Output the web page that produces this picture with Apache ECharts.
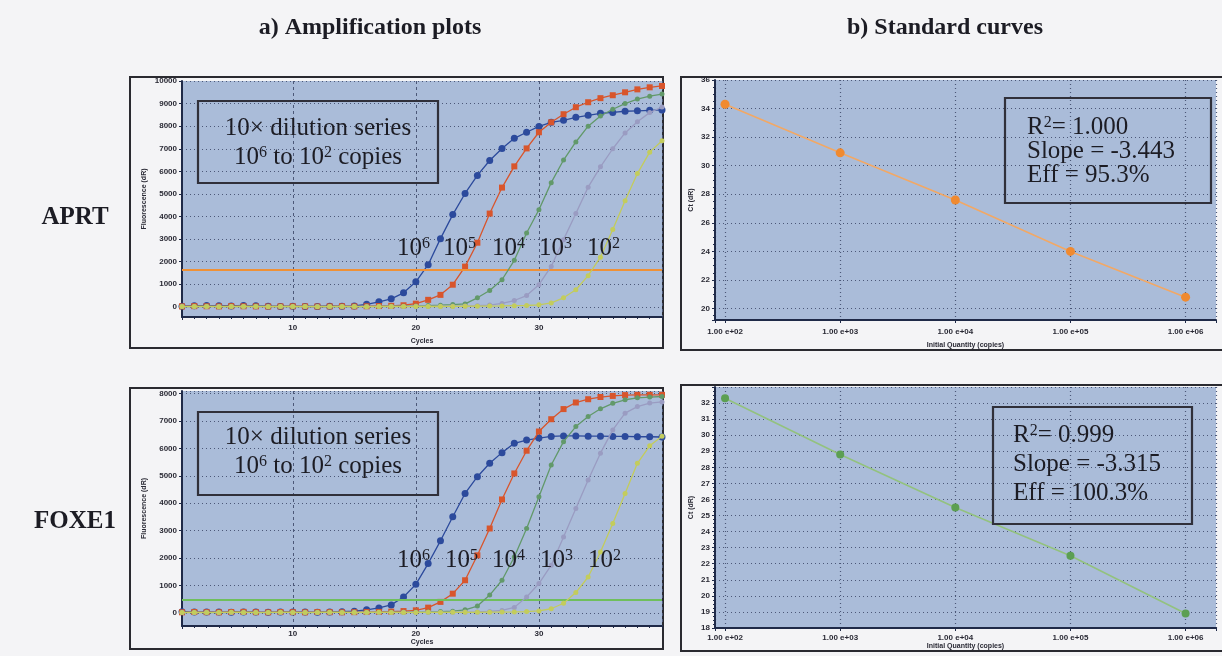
<!DOCTYPE html>
<html>
<head>
<meta charset="utf-8">
<script src="https://cdn.jsdelivr.net/npm/echarts@6.0.0/dist/echarts.min.js"></script>
<style>
html,body{margin:0;padding:0;background:#f4f4f6;}
#c{width:1222px;height:656px;}
</style>
</head>
<body>
<div id="c"></div>
<script>
// ---------------- DATA ----------------
const cycles = [1,2,3,4,5,6,7,8,9,10,11,12,13,14,15,16,17,18,19,20,21,22,23,24,25,26,27,28,29,30,31,32,33,34,35,36,37,38,39,40];

// APRT amplification (fluorescence dR), one value per cycle
const aprt1e6 = [30,50,55,50,40,60,45,30,20,25,20,15,25,30,40,110,220,355,620,1110,1865,3020,4085,5020,5820,6480,7015,7460,7730,7990,8170,8260,8390,8480,8570,8610,8660,8680,8700,8720];
const aprt1e5 = [20,30,25,20,30,25,20,15,20,25,20,15,20,25,20,25,35,45,70,140,310,530,980,1780,2840,4130,5280,6220,7015,7730,8170,8530,8840,9060,9240,9370,9500,9630,9720,9780];
const aprt1e4 = [10,20,25,20,15,20,25,20,15,10,15,20,15,10,15,20,20,25,30,40,55,75,100,130,400,725,1200,2060,3270,4300,5500,6500,7300,8000,8450,8750,9000,9200,9330,9420];
const aprt1e3 = [15,10,20,15,10,15,20,15,10,15,20,15,10,15,20,15,10,15,20,25,20,25,30,35,50,80,150,280,500,980,1790,2975,4130,5300,6200,7000,7700,8200,8600,8850];
const aprt1e2 = [10,15,10,5,10,15,10,5,10,15,10,5,10,15,10,5,10,15,10,15,20,15,20,25,30,35,40,50,60,90,175,400,755,1380,2200,3420,4700,5900,6850,7350];
const aprtThreshold = 1650;

// FOXE1 amplification (fluorescence dR)
const foxe1e6 = [40,30,35,30,25,35,30,25,30,35,30,25,30,40,60,110,180,290,580,1040,1800,2630,3510,4360,4970,5460,5850,6190,6310,6380,6440,6460,6460,6450,6450,6440,6440,6430,6430,6420];
const foxe1e5 = [20,30,25,20,30,35,25,20,30,25,20,30,25,20,25,30,35,45,65,92,190,400,700,1190,2100,3080,4140,5090,5920,6620,7070,7440,7680,7800,7880,7920,7950,7960,7960,7960];
const foxe1e4 = [15,20,15,10,20,25,15,10,20,15,10,20,25,15,20,15,20,25,20,30,35,45,60,110,250,650,1190,2040,3080,4240,5400,6250,6800,7170,7450,7650,7780,7850,7880,7900];
const foxe1e3 = [10,15,20,15,10,15,20,15,10,15,20,15,10,15,20,15,10,15,20,15,20,25,20,30,35,50,90,200,580,1070,1740,2770,3810,4850,5830,6680,7290,7530,7660,7700];
const foxe1e2 = [10,15,10,15,20,15,10,15,20,15,10,15,20,15,10,15,20,15,10,15,20,15,20,25,20,25,30,35,45,70,150,350,740,1310,2225,3265,4360,5460,6100,6450];
const foxe1Threshold = 480;

// Standard curves
const quantities = [100, 1000, 10000, 100000, 1000000];
const ctAPRT  = [34.3, 30.9, 27.6, 24.0, 20.8];
const ctFOXE1 = [32.3, 28.8, 25.5, 22.5, 18.9];

const dilutionExponents = ['6','5','4','3','2'];
const statsAPRT  = ['1.000', '-3.443', '95.3%'];
const statsFOXE1 = ['0.999', '-3.315', '100.3%'];

// ---------------- STYLE ----------------
const SERIF = "'Liberation Serif','Times New Roman',serif";
const SANS = "'Liberation Sans',Arial,sans-serif";
const PLOT_BG = '#aabcd9';
const INK = '#1c1c24';
const AXIS_C = '#1f2a48';
const GRID_C = '#4c5878';
const axisFont = {fontFamily: SANS, fontSize: 8, fontWeight: 'bold', color: '#2a2a35'};
const plainNum = function (v) { return String(Math.round(v)); };

const curveColors = ['#2c4a9c', '#d8552c', '#62996a', '#9a9cc2', '#c3cc5c'];
const curveSymbols = ['circle', 'rect', 'circle', 'circle', 'circle'];
const curveSizes = [7, 6, 5, 5, 5];

function ampXAxis(gi, nameGap, margin) {
  return {
    type: 'value', gridIndex: gi, min: 1, max: 40, splitNumber: 5,
    name: 'Cycles', nameLocation: 'middle', nameGap: nameGap, nameTextStyle: Object.assign({}, axisFont, {fontSize: 7}),
    axisLine: {show: true, onZero: false, lineStyle: {color: AXIS_C, width: 2}},
    axisTick: {show: true, length: 3, lineStyle: {color: AXIS_C}},
    minorTick: {show: true, splitNumber: 10, length: 2, lineStyle: {color: AXIS_C}},
    axisLabel: Object.assign({}, axisFont, {margin: margin, showMinLabel: false, showMaxLabel: false, formatter: plainNum}),
    splitLine: {show: true, lineStyle: {color: GRID_C, type: [3, 3], width: 1}}
  };
}
function ampYAxis(gi, min, max, split, showMax) {
  return {
    type: 'value', gridIndex: gi, min: min, max: max, splitNumber: split,
    name: 'Fluorescence (dR)', nameLocation: 'middle', nameGap: 34, nameTextStyle: Object.assign({}, axisFont, {fontSize: 7}),
    axisLine: {show: true, onZero: false, lineStyle: {color: AXIS_C, width: 2}},
    axisTick: {show: true, length: 3, lineStyle: {color: AXIS_C}},
    axisLabel: Object.assign({}, axisFont, {margin: 5, showMinLabel: false, showMaxLabel: showMax, formatter: plainNum}),
    splitLine: {show: true, lineStyle: {color: GRID_C, type: [1, 3], width: 1.2}}
  };
}
function stdXAxis(gi, nameGap, margin) {
  return {
    type: 'log', logBase: 10, gridIndex: gi, min: 81.8, max: 1837000,
    name: 'Initial Quantity (copies)', nameLocation: 'middle', nameGap: nameGap, nameTextStyle: Object.assign({}, axisFont, {fontSize: 7}),
    axisLine: {show: true, onZero: false, lineStyle: {color: AXIS_C, width: 2}},
    axisTick: {show: true, length: 3, lineStyle: {color: AXIS_C}},
    axisLabel: Object.assign({}, axisFont, {margin: margin, formatter: function (v) {
      const e = Math.log10(v); const r = Math.round(e);
      if (Math.abs(e - r) > 1e-6) return '';
      return '1.00 e+' + (r < 10 ? '0' + r : r);
    }}),
    splitLine: {show: true, lineStyle: {color: GRID_C, type: [1, 3], width: 1.2}}
  };
}
function stdYAxis(gi, min, max, opts) {
  return Object.assign({
    type: 'value', gridIndex: gi, min: min, max: max,
    name: 'Ct (dR)', nameLocation: 'middle', nameGap: 20, nameTextStyle: Object.assign({}, axisFont, {fontSize: 7}),
    axisLine: {show: true, onZero: false, lineStyle: {color: AXIS_C, width: 2}},
    axisTick: {show: true, length: 3, lineStyle: {color: AXIS_C}},
    minorTick: {show: true, splitNumber: 4, length: 2, lineStyle: {color: AXIS_C}},
    axisLabel: Object.assign({}, axisFont, {margin: 5, showMinLabel: false}),
    splitLine: {show: true, lineStyle: {color: GRID_C, type: [1, 3], width: 1.2}}
  }, opts);
}

function ampSeries(gi, values, k, threshold, thColor) {
  const s = {
    type: 'line', xAxisIndex: gi, yAxisIndex: gi,
    data: cycles.map((c, i) => [c, values[i]]),
    symbol: curveSymbols[k], symbolSize: curveSizes[k], showSymbol: true,
    lineStyle: {color: curveColors[k], width: 1.3},
    itemStyle: {color: curveColors[k]},
    clip: true, animation: false, z: 3 + k
  };
  if (threshold !== undefined) {
    s.markLine = {silent: true, symbol: 'none', label: {show: false}, animation: false,
      lineStyle: {color: thColor, width: 2, type: 'solid'}, data: [{yAxis: threshold}]};
  }
  return s;
}
function stdSeries(gi, cts, lineColor, dotColor, size) {
  return {
    type: 'line', xAxisIndex: gi, yAxisIndex: gi,
    data: quantities.map((q, i) => [q, cts[i]]),
    symbol: 'circle', symbolSize: size,
    lineStyle: {color: lineColor, width: 1.6},
    itemStyle: {color: dotColor},
    animation: false, z: 5
  };
}

// --------- graphic helpers (frames, annotation text) ---------
function frame(x, y, w, h) {
  return {type: 'rect', z: -1, shape: {x: x, y: y, width: w, height: h},
    style: {fill: '#f4f4f6', stroke: '#2a2a30', lineWidth: 2}};
}
function box(x, y, w, h) {
  return {type: 'rect', z: 40, shape: {x: x, y: y, width: w, height: h},
    style: {fill: 'rgba(0,0,0,0)', stroke: '#30303a', lineWidth: 2.2}};
}
function rtext(x, y, text, align, size) {
  const fs = size || 25;
  const rich = {
    n: {fontFamily: SERIF, fontSize: fs, fill: INK, color: INK},
    s: {fontFamily: SERIF, fontSize: Math.round(fs * 0.62), fill: INK, color: INK, verticalAlign: 'top'}
  };
  return {type: 'text', z: 50, x: x, y: y,
    style: {text: text, rich: rich, align: align || 'left', verticalAlign: 'middle'}};
}
function heading(x, y, text, size) {
  return {type: 'text', z: 50, x: x, y: y,
    style: {text: text, fontFamily: SERIF, fontSize: size || 24, fontWeight: 'bold', fill: INK, align: 'center', verticalAlign: 'middle'}};
}

const aLabelXA1 = [397, 443, 492, 539, 587];
const aLabelXA2 = [397, 445, 492, 540, 588];

const graphics = [
  frame(130, 77, 533, 271),
  frame(130, 388, 533, 261),
  frame(681, 77, 560, 273),
  frame(681, 385, 560, 266),
  heading(370, 28, 'a) Amplification plots'),
  heading(945, 28, 'b) Standard curves'),
  heading(75, 218, 'APRT', 25),
  heading(75, 522, 'FOXE1', 25),
  // APRT amplification box
  box(198, 101, 240, 82),
  rtext(318, 128, '{n|10× dilution series}', 'center'),
  rtext(318, 157, '{n|10}{s|6}{n| to 10}{s|2}{n| copies}', 'center'),
  // FOXE1 amplification box
  box(198, 412, 240, 83),
  rtext(318, 437, '{n|10× dilution series}', 'center'),
  rtext(318, 466, '{n|10}{s|6}{n| to 10}{s|2}{n| copies}', 'center'),
  // APRT standard curve stats
  box(1005, 98, 206, 105),
  rtext(1027, 127, '{n|R}{s|2}{n|= ' + statsAPRT[0] + '}', 'left'),
  rtext(1027, 151, '{n|Slope = ' + statsAPRT[1] + '}', 'left'),
  rtext(1027, 175, '{n|Eff = ' + statsAPRT[2] + '}', 'left'),
  // FOXE1 standard curve stats
  box(993, 407, 199, 117),
  rtext(1013, 435, '{n|R}{s|2}{n|= ' + statsFOXE1[0] + '}', 'left'),
  rtext(1013, 464, '{n|Slope = ' + statsFOXE1[1] + '}', 'left'),
  rtext(1013, 493, '{n|Eff = ' + statsFOXE1[2] + '}', 'left')
];
dilutionExponents.forEach((e, i) => {
  graphics.push(rtext(aLabelXA1[i], 248, '{n|10}{s|' + e + '}', 'left'));
  graphics.push(rtext(aLabelXA2[i], 560, '{n|10}{s|' + e + '}', 'left'));
});

const gridBase = {show: true, backgroundColor: PLOT_BG, borderWidth: 0, containLabel: false, outerBoundsMode: 'none'};

const option = {
  animation: false,
  backgroundColor: 'transparent',
  grid: [
    Object.assign({left: 182, top: 81, width: 480, height: 236}, gridBase),
    Object.assign({left: 182, top: 391, width: 480, height: 235}, gridBase),
    Object.assign({left: 715, top: 80, width: 501, height: 240}, gridBase),
    Object.assign({left: 715, top: 387, width: 501, height: 241}, gridBase)
  ],
  xAxis: [ampXAxis(0, 21, 7), ampXAxis(1, 13, 4), stdXAxis(2, 22, 8), stdXAxis(3, 15, 6)],
  yAxis: [
    ampYAxis(0, -450, 10000, 10, true),
    ampYAxis(1, -480, 8100, 9, false),
    stdYAxis(2, 19.2, 36, {splitNumber: 8}),
    stdYAxis(3, 18, 33, {interval: 1, axisLabel: Object.assign({}, axisFont, {margin: 5, showMaxLabel: false})})
  ],
  series: [
    ampSeries(0, aprt1e6, 0, aprtThreshold, '#ef9136'),
    ampSeries(0, aprt1e5, 1),
    ampSeries(0, aprt1e4, 2),
    ampSeries(0, aprt1e3, 3),
    ampSeries(0, aprt1e2, 4),
    ampSeries(1, foxe1e6, 0, foxe1Threshold, '#6fbf5c'),
    ampSeries(1, foxe1e5, 1),
    ampSeries(1, foxe1e4, 2),
    ampSeries(1, foxe1e3, 3),
    ampSeries(1, foxe1e2, 4),
    stdSeries(2, ctAPRT, '#f2a865', '#f08a30', 9),
    stdSeries(3, ctFOXE1, '#93c27e', '#5c9f52', 8)
  ],
  graphic: {elements: graphics}
};

const chart = echarts.init(document.getElementById('c'), null, {renderer: 'canvas'});
chart.setOption(option);
</script>
</body>
</html>
